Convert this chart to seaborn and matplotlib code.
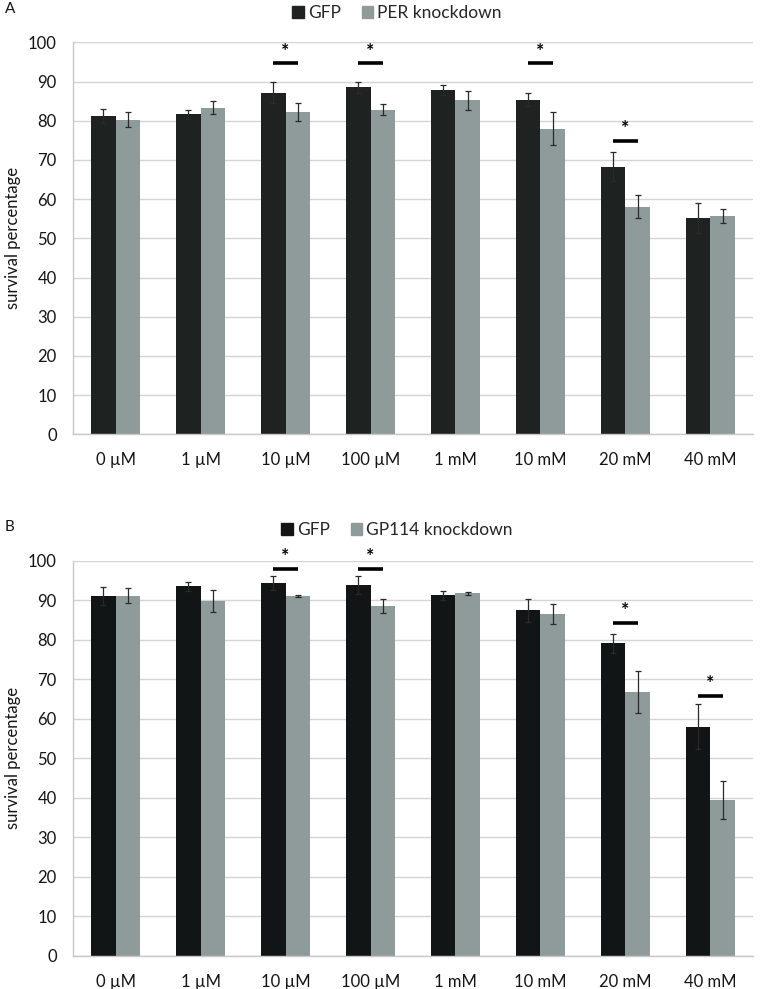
import numpy as np
import pandas as pd
import matplotlib
matplotlib.use("Agg")
import matplotlib.pyplot as plt
import seaborn as sns

# ---------------- data ----------------
concentrations = ["0 µM", "1 µM", "10 µM", "100 µM", "1 mM", "10 mM", "20 mM", "40 mM"]

a_gfp = [81.1, 81.6, 87.1, 88.5, 87.8, 85.4, 68.2, 55.2]
a_gfp_err = [1.8, 1.2, 2.7, 1.5, 1.3, 1.7, 3.7, 3.8]
a_kd = [80.2, 83.3, 82.2, 82.8, 85.2, 78.0, 58.1, 55.7]
a_kd_err = [1.9, 1.6, 2.3, 1.4, 2.4, 4.1, 3.0, 1.7]
a_kd_name = "PER knockdown"
a_sig_idx = [2, 3, 5, 6]
a_sig_line = [94.6, 94.6, 94.6, 74.9]

b_gfp = [91.1, 93.5, 94.3, 93.8, 91.2, 87.4, 79.1, 58.0]
b_gfp_err = [2.2, 1.2, 1.8, 2.3, 1.2, 3.0, 2.4, 5.7]
b_kd = [91.1, 89.8, 91.1, 88.5, 91.7, 86.6, 66.8, 39.4]
b_kd_err = [1.9, 2.9, 0.3, 1.8, 0.5, 2.5, 5.4, 4.8]
b_kd_name = "GP114 knockdown"
b_sig_idx = [2, 3, 6, 7]
b_sig_line = [97.9, 97.9, 84.3, 65.8]

y_ticks = list(range(0, 101, 10))

# ---------------- style ----------------
sns.set_style("white")
plt.rcParams["font.family"] = ["Lato", "DejaVu Sans"]

GFP_COLOR = "#1e2322"
KD_COLOR = "#8e9b9a"
GRID = "#d4d4d4"
SPINE = "#c8c8c8"
TXT = "#151515"

fig = plt.figure(figsize=(7.61, 9.89), dpi=100)


def panel(rect, gfp, gfp_err, kd, kd_err, kd_name, sig_idx, sig_line, letter, legend_y, gfp_color):
    ax = fig.add_axes(rect)
    df = pd.DataFrame({
        "conc": concentrations * 2,
        "val": list(gfp) + list(kd),
        "err": list(gfp_err) + list(kd_err),
        "group": ["GFP"] * len(gfp) + [kd_name] * len(kd),
    })
    sns.barplot(data=df, x="conc", y="val", hue="group", order=concentrations,
                hue_order=["GFP", kd_name], palette=[gfp_color, KD_COLOR],
                width=0.58, gap=0, errorbar=None, saturation=1, ax=ax,
                linewidth=0, legend=False, zorder=2)
    # error bars
    for cont, errs in zip(ax.containers, [gfp_err, kd_err]):
        xs = [p.get_x() + p.get_width() / 2 for p in cont.patches]
        hs = [p.get_height() for p in cont.patches]
        ax.errorbar(xs, hs, yerr=errs, fmt="none", ecolor="#2a2a2a",
                    elinewidth=0.9, capsize=2.2, capthick=0.9, zorder=3)
    # significance
    g_p = ax.containers[0].patches
    k_p = ax.containers[1].patches
    for i, yv in zip(sig_idx, sig_line):
        x0 = g_p[i].get_x() + g_p[i].get_width() / 2
        x1 = k_p[i].get_x() + k_p[i].get_width() / 2
        ax.plot([x0, x1], [yv, yv], color="black", lw=2.6, solid_capstyle="butt",
                zorder=4, clip_on=False)
        ax.text((x0 + x1) / 2, yv + 0.9, "*", ha="center", va="bottom",
                fontsize=14, fontweight="bold", color="black", clip_on=False)

    ax.set_ylim(0, 100)
    ax.set_xlim(-0.5, len(concentrations) - 0.5)
    ax.set_yticks(y_ticks)
    ax.yaxis.grid(True, color=GRID, lw=1.0, zorder=0)
    ax.set_axisbelow(True)
    for s in ["top", "right"]:
        ax.spines[s].set_visible(False)
    for s in ["left", "bottom"]:
        ax.spines[s].set_color(SPINE)
        ax.spines[s].set_linewidth(1.0)
    ax.tick_params(axis="y", length=5, width=1.0, color=SPINE, labelsize=12,
                   labelcolor=TXT, pad=7)
    ax.tick_params(axis="x", which="major", length=0, labelsize=12,
                   labelcolor=TXT, pad=13)
    ax.set_xticks(np.arange(-0.5, len(concentrations)), minor=True)
    ax.tick_params(axis="x", which="minor", length=5, width=1.0, color=SPINE)
    ax.set_xlabel("")
    ax.set_ylabel("survival percentage", fontsize=12, color=TXT, labelpad=5)

    handles = [plt.Rectangle((0, 0), 1, 1, color=gfp_color),
               plt.Rectangle((0, 0), 1, 1, color=KD_COLOR)]
    fig.legend(handles, ["GFP", kd_name], loc="center", ncol=2,
               bbox_to_anchor=(397 / 761, legend_y), frameon=False,
               fontsize=12.5, handlelength=0.65, handleheight=0.65,
               handletextpad=0.25, columnspacing=1.2)
    fig.text(5 / 761, rect[1] + rect[3] + 0.034, letter, fontsize=11, color=TXT,
             ha="left", va="center")
    return ax


panel([73.3 / 761, 1 - 434.3 / 989, (752.7 - 73.3) / 761, (434.3 - 42.3) / 989],
      a_gfp, a_gfp_err, a_kd, a_kd_err, a_kd_name, a_sig_idx, a_sig_line, "A",
      1 - 13 / 989, GFP_COLOR)
panel([73.3 / 761, 1 - 955.7 / 989, (752.7 - 73.3) / 761, (955.7 - 560.7) / 989],
      b_gfp, b_gfp_err, b_kd, b_kd_err, b_kd_name, b_sig_idx, b_sig_line, "B",
      1 - 530 / 989, "#111515")

fig.savefig("out.png", dpi=100)
